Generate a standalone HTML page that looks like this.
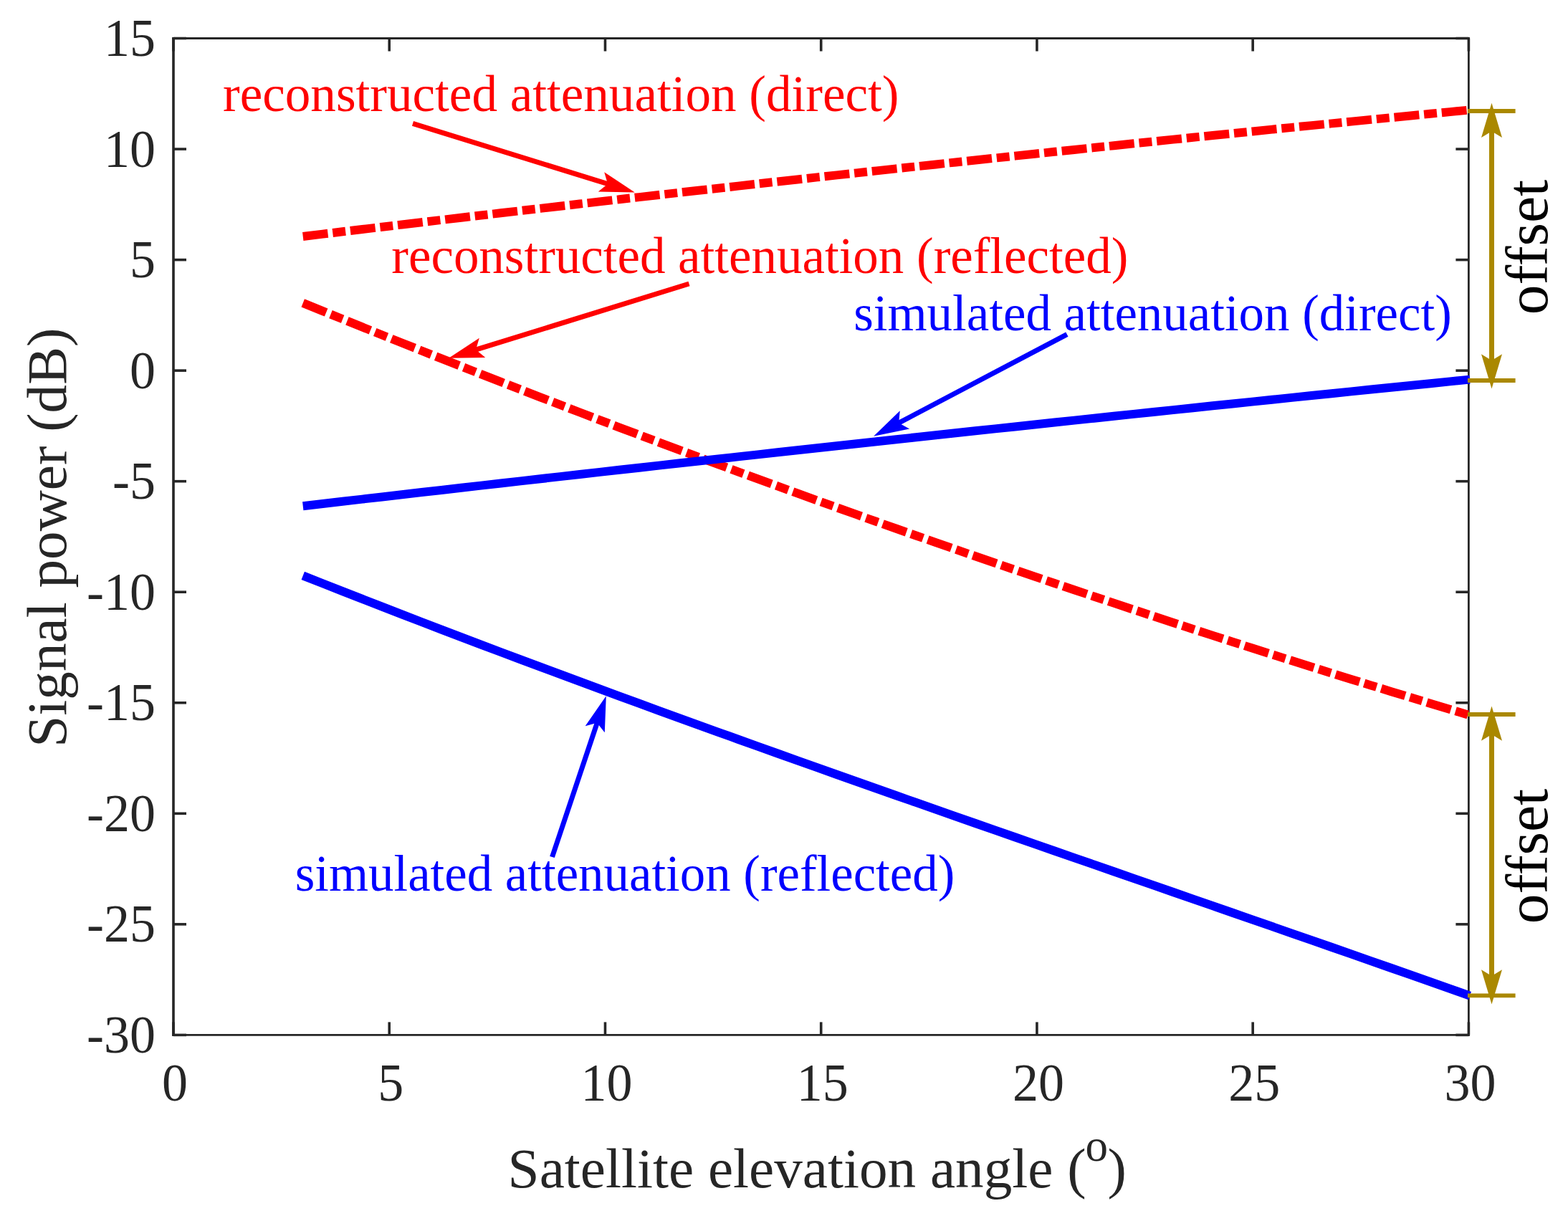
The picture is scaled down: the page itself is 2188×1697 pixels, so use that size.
<!DOCTYPE html>
<html><head><meta charset="utf-8"><title>Signal power vs satellite elevation angle</title>
<style>html,body{margin:0;padding:0;background:#fff;width:2188px;height:1697px;overflow:hidden}svg{display:block}</style>
</head><body>
<svg width="2188" height="1697" viewBox="0 0 2188 1697"><g stroke="#262626" stroke-width="3" fill="none">
<line x1="242.0" y1="52.0" x2="242.0" y2="1445.9" stroke-width="3.6"/>
<line x1="2049.4" y1="52.0" x2="2049.4" y2="1445.9" stroke-width="2.8"/>
<line x1="240.2" y1="53.5" x2="2050.8" y2="53.5"/>
<line x1="240.2" y1="1444.4" x2="2050.8" y2="1444.4" stroke-width="2.8"/>
<line x1="242.00" y1="1444.4" x2="242.00" y2="1426.4" stroke-width="3.6"/>
<line x1="242.00" y1="53.5" x2="242.00" y2="71.5" stroke-width="3.6"/>
<line x1="543.23" y1="1444.4" x2="543.23" y2="1426.4" stroke-width="3.6"/>
<line x1="543.23" y1="53.5" x2="543.23" y2="71.5" stroke-width="3.6"/>
<line x1="844.47" y1="1444.4" x2="844.47" y2="1426.4" stroke-width="3.6"/>
<line x1="844.47" y1="53.5" x2="844.47" y2="71.5" stroke-width="3.6"/>
<line x1="1145.70" y1="1444.4" x2="1145.70" y2="1426.4" stroke-width="3.6"/>
<line x1="1145.70" y1="53.5" x2="1145.70" y2="71.5" stroke-width="3.6"/>
<line x1="1446.93" y1="1444.4" x2="1446.93" y2="1426.4" stroke-width="3.6"/>
<line x1="1446.93" y1="53.5" x2="1446.93" y2="71.5" stroke-width="3.6"/>
<line x1="1748.17" y1="1444.4" x2="1748.17" y2="1426.4" stroke-width="3.6"/>
<line x1="1748.17" y1="53.5" x2="1748.17" y2="71.5" stroke-width="3.6"/>
<line x1="2049.40" y1="1444.4" x2="2049.40" y2="1426.4" stroke-width="3.6"/>
<line x1="2049.40" y1="53.5" x2="2049.40" y2="71.5" stroke-width="3.6"/>
<line x1="242.0" y1="53.50" x2="260.0" y2="53.50" stroke-width="3.6"/>
<line x1="2049.4" y1="53.50" x2="2031.4" y2="53.50" stroke-width="3.6"/>
<line x1="242.0" y1="208.04" x2="260.0" y2="208.04" stroke-width="3.6"/>
<line x1="2049.4" y1="208.04" x2="2031.4" y2="208.04" stroke-width="3.6"/>
<line x1="242.0" y1="362.59" x2="260.0" y2="362.59" stroke-width="3.6"/>
<line x1="2049.4" y1="362.59" x2="2031.4" y2="362.59" stroke-width="3.6"/>
<line x1="242.0" y1="517.13" x2="260.0" y2="517.13" stroke-width="3.6"/>
<line x1="2049.4" y1="517.13" x2="2031.4" y2="517.13" stroke-width="3.6"/>
<line x1="242.0" y1="671.68" x2="260.0" y2="671.68" stroke-width="3.6"/>
<line x1="2049.4" y1="671.68" x2="2031.4" y2="671.68" stroke-width="3.6"/>
<line x1="242.0" y1="826.22" x2="260.0" y2="826.22" stroke-width="3.6"/>
<line x1="2049.4" y1="826.22" x2="2031.4" y2="826.22" stroke-width="3.6"/>
<line x1="242.0" y1="980.77" x2="260.0" y2="980.77" stroke-width="3.6"/>
<line x1="2049.4" y1="980.77" x2="2031.4" y2="980.77" stroke-width="3.6"/>
<line x1="242.0" y1="1135.31" x2="260.0" y2="1135.31" stroke-width="3.6"/>
<line x1="2049.4" y1="1135.31" x2="2031.4" y2="1135.31" stroke-width="3.6"/>
<line x1="242.0" y1="1289.86" x2="260.0" y2="1289.86" stroke-width="3.6"/>
<line x1="2049.4" y1="1289.86" x2="2031.4" y2="1289.86" stroke-width="3.6"/>
<line x1="242.0" y1="1444.40" x2="260.0" y2="1444.40" stroke-width="3.6"/>
<line x1="2049.4" y1="1444.40" x2="2031.4" y2="1444.40" stroke-width="3.6"/>
</g>
<g font-family="Liberation Serif, serif" font-size="72" fill="#262626">
<text transform="translate(244.00,1536.2) scale(1,1.03)" text-anchor="middle">0</text>
<text transform="translate(545.23,1536.2) scale(1,1.03)" text-anchor="middle">5</text>
<text transform="translate(846.47,1536.2) scale(1,1.03)" text-anchor="middle">10</text>
<text transform="translate(1147.70,1536.2) scale(1,1.03)" text-anchor="middle">15</text>
<text transform="translate(1448.93,1536.2) scale(1,1.03)" text-anchor="middle">20</text>
<text transform="translate(1750.17,1536.2) scale(1,1.03)" text-anchor="middle">25</text>
<text transform="translate(2051.40,1536.2) scale(1,1.03)" text-anchor="middle">30</text>
<text transform="translate(217,78.00) scale(1,1.03)" text-anchor="end">15</text>
<text transform="translate(217,232.54) scale(1,1.03)" text-anchor="end">10</text>
<text transform="translate(217,387.09) scale(1,1.03)" text-anchor="end">5</text>
<text transform="translate(217,541.63) scale(1,1.03)" text-anchor="end">0</text>
<text transform="translate(217,696.18) scale(1,1.03)" text-anchor="end">-5</text>
<text transform="translate(217,850.72) scale(1,1.03)" text-anchor="end">-10</text>
<text transform="translate(217,1005.27) scale(1,1.03)" text-anchor="end">-15</text>
<text transform="translate(217,1159.81) scale(1,1.03)" text-anchor="end">-20</text>
<text transform="translate(217,1314.36) scale(1,1.03)" text-anchor="end">-25</text>
<text transform="translate(217,1468.90) scale(1,1.03)" text-anchor="end">-30</text>
</g>
<polyline points="422.75,329.94 450.35,326.63 477.94,323.33 505.54,320.03 533.14,316.75 560.74,313.48 588.33,310.23 615.93,306.98 643.53,303.74 671.13,300.52 698.72,297.30 726.32,294.10 753.92,290.91 781.52,287.73 809.11,284.56 836.71,281.40 864.31,278.26 891.91,275.12 919.50,272.00 947.10,268.88 974.70,265.78 1002.30,262.69 1029.89,259.61 1057.49,256.54 1085.09,253.48 1112.69,250.43 1140.28,247.40 1167.88,244.37 1195.48,241.36 1223.08,238.35 1250.67,235.36 1278.27,232.38 1305.87,229.41 1333.47,226.45 1361.06,223.51 1388.66,220.57 1416.26,217.65 1443.86,214.73 1471.45,211.83 1499.05,208.94 1526.65,206.06 1554.25,203.19 1581.84,200.33 1609.44,197.48 1637.04,194.65 1664.64,191.82 1692.23,189.01 1719.83,186.20 1747.43,183.41 1775.03,180.63 1802.62,177.86 1830.22,175.10 1857.82,172.36 1885.42,169.62 1913.01,166.90 1940.61,164.18 1968.21,161.48 1995.81,158.79 2023.40,156.11 2051.00,153.44" fill="none" stroke="#ff0000" stroke-width="12" stroke-dasharray="35 6.8 18 6.8"/>
<polyline points="422.75,422.85 450.35,434.09 477.94,445.27 505.54,456.40 533.14,467.49 560.74,478.52 588.33,489.50 615.93,500.43 643.53,511.31 671.13,522.14 698.72,532.92 726.32,543.65 753.92,554.32 781.52,564.95 809.11,575.52 836.71,586.05 864.31,596.52 891.91,606.94 919.50,617.31 947.10,627.63 974.70,637.90 1002.30,648.12 1029.89,658.28 1057.49,668.40 1085.09,678.46 1112.69,688.47 1140.28,698.44 1167.88,708.35 1195.48,718.20 1223.08,728.01 1250.67,737.77 1278.27,747.47 1305.87,757.12 1333.47,766.73 1361.06,776.28 1388.66,785.77 1416.26,795.22 1443.86,804.62 1471.45,813.96 1499.05,823.25 1526.65,832.49 1554.25,841.68 1581.84,850.82 1609.44,859.91 1637.04,868.94 1664.64,877.92 1692.23,886.85 1719.83,895.73 1747.43,904.56 1775.03,913.33 1802.62,922.06 1830.22,930.73 1857.82,939.35 1885.42,947.91 1913.01,956.43 1940.61,964.89 1968.21,973.31 1995.81,981.66 2023.40,989.97 2051.00,998.23" fill="none" stroke="#ff0000" stroke-width="12" stroke-dasharray="35 6.8 18 6.8"/>
<polyline points="422.75,706.19 450.35,702.99 477.94,699.79 505.54,696.60 533.14,693.42 560.74,690.25 588.33,687.08 615.93,683.92 643.53,680.77 671.13,677.62 698.72,674.48 726.32,671.35 753.92,668.23 781.52,665.11 809.11,662.00 836.71,658.90 864.31,655.81 891.91,652.72 919.50,649.64 947.10,646.57 974.70,643.50 1002.30,640.44 1029.89,637.39 1057.49,634.35 1085.09,631.31 1112.69,628.28 1140.28,625.26 1167.88,622.24 1195.48,619.24 1223.08,616.24 1250.67,613.24 1278.27,610.26 1305.87,607.28 1333.47,604.31 1361.06,601.34 1388.66,598.39 1416.26,595.44 1443.86,592.49 1471.45,589.56 1499.05,586.63 1526.65,583.71 1554.25,580.80 1581.84,577.89 1609.44,574.99 1637.04,572.10 1664.64,569.22 1692.23,566.34 1719.83,563.47 1747.43,560.61 1775.03,557.75 1802.62,554.90 1830.22,552.06 1857.82,549.23 1885.42,546.40 1913.01,543.58 1940.61,540.77 1968.21,537.97 1995.81,535.17 2023.40,532.38 2051.00,529.60" fill="none" stroke="#0000ff" stroke-width="12"/>
<polyline points="422.75,803.35 450.35,814.28 477.94,825.14 505.54,835.94 533.14,846.68 560.74,857.37 588.33,868.00 615.93,878.58 643.53,889.11 671.13,899.58 698.72,910.00 726.32,920.38 753.92,930.71 781.52,940.99 809.11,951.23 836.71,961.43 864.31,971.59 891.91,981.70 919.50,991.78 947.10,1001.82 974.70,1011.83 1002.30,1021.80 1029.89,1031.74 1057.49,1041.64 1085.09,1051.52 1112.69,1061.37 1140.28,1071.19 1167.88,1080.99 1195.48,1090.76 1223.08,1100.52 1250.67,1110.24 1278.27,1119.95 1305.87,1129.64 1333.47,1139.32 1361.06,1148.98 1388.66,1158.62 1416.26,1168.25 1443.86,1177.87 1471.45,1187.48 1499.05,1197.09 1526.65,1206.68 1554.25,1216.27 1581.84,1225.86 1609.44,1235.44 1637.04,1245.02 1664.64,1254.60 1692.23,1264.18 1719.83,1273.77 1747.43,1283.36 1775.03,1292.95 1802.62,1302.56 1830.22,1312.17 1857.82,1321.79 1885.42,1331.42 1913.01,1341.07 1940.61,1350.73 1968.21,1360.41 1995.81,1370.10 2023.40,1379.81 2051.00,1389.54" fill="none" stroke="#0000ff" stroke-width="12"/>
<line x1="576.00" y1="172.30" x2="857.15" y2="259.51" stroke="#ff0000" stroke-width="7"/><path d="M885.80,268.40 L834.76,267.54 L847.98,256.67 L843.24,240.22 Z" fill="#ff0000"/>
<line x1="961.50" y1="396.00" x2="654.86" y2="490.93" stroke="#ff0000" stroke-width="7"/><path d="M626.20,499.80 L668.78,471.65 L664.03,488.09 L677.24,498.97 Z" fill="#ff0000"/>
<line x1="1488.90" y1="466.60" x2="1245.64" y2="594.72" stroke="#0000ff" stroke-width="7"/><path d="M1219.10,608.70 L1255.79,573.21 L1254.14,590.25 L1269.12,598.52 Z" fill="#0000ff"/>
<line x1="770.50" y1="1196.00" x2="836.27" y2="999.75" stroke="#0000ff" stroke-width="7"/><path d="M845.80,971.30 L843.79,1022.30 L833.22,1008.85 L816.67,1013.22 Z" fill="#0000ff"/>
<line x1="2048" y1="155" x2="2114.6" y2="155" stroke="#aa8800" stroke-width="5.8"/>
<line x1="2048" y1="531" x2="2114.6" y2="531" stroke="#aa8800" stroke-width="5.8"/>
<line x1="2081.5" y1="173.7" x2="2081.5" y2="512.5" stroke="#aa8800" stroke-width="7"/>
<path d="M2081.50,143.70 L2096.00,192.00 L2081.50,183.20 L2067.00,192.00 Z" fill="#aa8800"/>
<path d="M2081.50,542.50 L2067.00,494.20 L2081.50,503.00 L2096.00,494.20 Z" fill="#aa8800"/>
<line x1="2048" y1="997" x2="2114.6" y2="997" stroke="#aa8800" stroke-width="5.8"/>
<line x1="2048" y1="1389.4" x2="2114.6" y2="1389.4" stroke="#aa8800" stroke-width="5.8"/>
<line x1="2081.5" y1="1015.4" x2="2081.5" y2="1371.6" stroke="#aa8800" stroke-width="7"/>
<path d="M2081.50,985.40 L2096.00,1033.70 L2081.50,1024.90 L2067.00,1033.70 Z" fill="#aa8800"/>
<path d="M2081.50,1401.60 L2067.00,1353.30 L2081.50,1362.10 L2096.00,1353.30 Z" fill="#aa8800"/>
<g font-family="Liberation Serif, serif" font-size="71">
<text x="311" y="155" fill="#ff0000" font-size="71.1">reconstructed attenuation (direct)</text>
<text x="546.3" y="381" fill="#ff0000" font-size="70.95">reconstructed attenuation (reflected)</text>
<text x="1191.2" y="461" fill="#0000ff" font-size="70.9">simulated attenuation (direct)</text>
<text x="411.7" y="1243" fill="#0000ff" font-size="70.85">simulated attenuation (reflected)</text>
</g>
<g font-family="Liberation Serif, serif" font-size="83.5" fill="#000">
<text transform="translate(2159.1,345.0) rotate(-90)" text-anchor="middle">offset</text>
<text transform="translate(2159.4,1195.0) rotate(-90)" text-anchor="middle">offset</text>
</g>
<g font-family="Liberation Serif, serif" font-size="79.2" fill="#262626">
<text transform="translate(92.2,750.2) rotate(-90)" text-anchor="middle">Signal power (dB)</text>
<text x="708.6" y="1656.5">Satellite elevation angle (</text>
<text x="1514.4" y="1620" font-size="63">o</text>
<text x="1545.5" y="1656.5">)</text>
</g></svg>
</body></html>
